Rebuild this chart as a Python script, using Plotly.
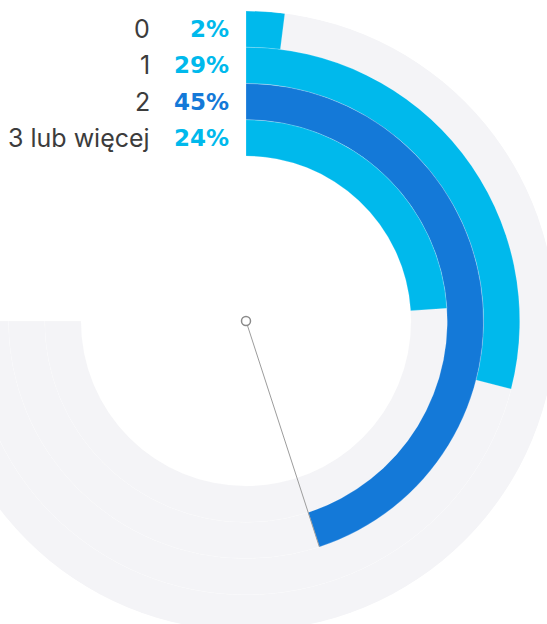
import plotly.graph_objects as go

# ---- data ----
categories = ["0", "1", "2", "3 lub więcej"]
values = [2, 29, 45, 24]            # percent
bar_colors = ["#00b9ec", "#00b9ec", "#1479d8", "#00b9ec"]
pointer_value = 45                  # needle points at this value
track_span_pct = 75                 # grey track covers 75% of the circle

# ---- geometry (pixels) ----
R_OUT = 310.0
BAND = 36.25
SHIFT = 64            # page shift so the centre sits at x=246
W, H = 640, 640
TOP = 11              # top of the polar square in page px
CX_PAGE, CY_PAGE = R_OUT - SHIFT, TOP + R_OUT

deg = lambda v: v * 360.0 / 100.0

n = len(values)
bases = [R_OUT - BAND * (i + 1) for i in range(n)]

fig = go.Figure()

# grey tracks
fig.add_trace(go.Barpolar(
    r=[BAND] * n, base=bases,
    theta=[deg(track_span_pct) / 2] * n, width=[deg(track_span_pct)] * n,
    marker=dict(color="#f4f4f7", line=dict(color="rgba(255,255,255,0.35)", width=0.6)),
    hoverinfo="skip", showlegend=False,
))

# value bars
fig.add_trace(go.Barpolar(
    r=[BAND] * n, base=bases,
    theta=[deg(v) / 2 for v in values], width=[deg(v) for v in values],
    marker=dict(color=bar_colors, line=dict(color="rgba(255,255,255,0.35)", width=0.6)),
    hoverinfo="skip", showlegend=False,
))

# needle
idx = values.index(pointer_value)
fig.add_trace(go.Scatterpolar(
    r=[0, bases[idx] + BAND], theta=[deg(pointer_value)] * 2,
    mode="lines", line=dict(color="#9c9c9c", width=1),
    hoverinfo="skip", showlegend=False,
))
fig.add_trace(go.Scatterpolar(
    r=[0], theta=[0], mode="markers",
    marker=dict(size=9, color="white", line=dict(color="#8a8a8a", width=1.5)),
    hoverinfo="skip", showlegend=False,
))

# labels
annotations = []
for i, (c, v, col) in enumerate(zip(categories, values, bar_colors)):
    ypx = CY_PAGE - (R_OUT - BAND * (i + 0.5))
    yp = 1 - ypx / H
    annotations.append(dict(
        x=(152 + SHIFT) / W, y=yp, xref="paper", yref="paper",
        xanchor="right", yanchor="middle", showarrow=False,
        text=c, font=dict(family="Inter", size=25, color="#3c3c3c"),
    ))
    annotations.append(dict(
        x=(231 + SHIFT) / W, y=yp, xref="paper", yref="paper",
        xanchor="right", yanchor="middle", showarrow=False,
        text=f"<b>{v}%</b>", font=dict(family="DejaVu Sans", size=23, color=col),
    ))

fig.update_layout(
    width=W, height=H,
    margin=dict(l=0, r=0, t=0, b=0),
    paper_bgcolor="white",
    annotations=annotations,
    polar=dict(
        domain=dict(x=[0, 2 * R_OUT / W], y=[(H - TOP - 2 * R_OUT) / H, (H - TOP) / H]),
        bgcolor="rgba(0,0,0,0)",
        hole=0,
        angularaxis=dict(rotation=90, direction="clockwise", visible=False,
                         showgrid=False, showline=False, ticks=""),
        radialaxis=dict(range=[0, R_OUT], visible=False, showgrid=False,
                        showline=False, ticks=""),
        barmode="overlay",
    ),
    showlegend=False,
)

post = ("document.documentElement.style.overflow='hidden';"
        "document.body.style.margin='0';document.body.style.overflow='hidden';"
        "var d=document.getElementById('{plot_id}');"
        "d.style.marginLeft='-%dpx';" % SHIFT)

fig.write_html("out.html", config={"displayModeBar": False}, post_script=post)
